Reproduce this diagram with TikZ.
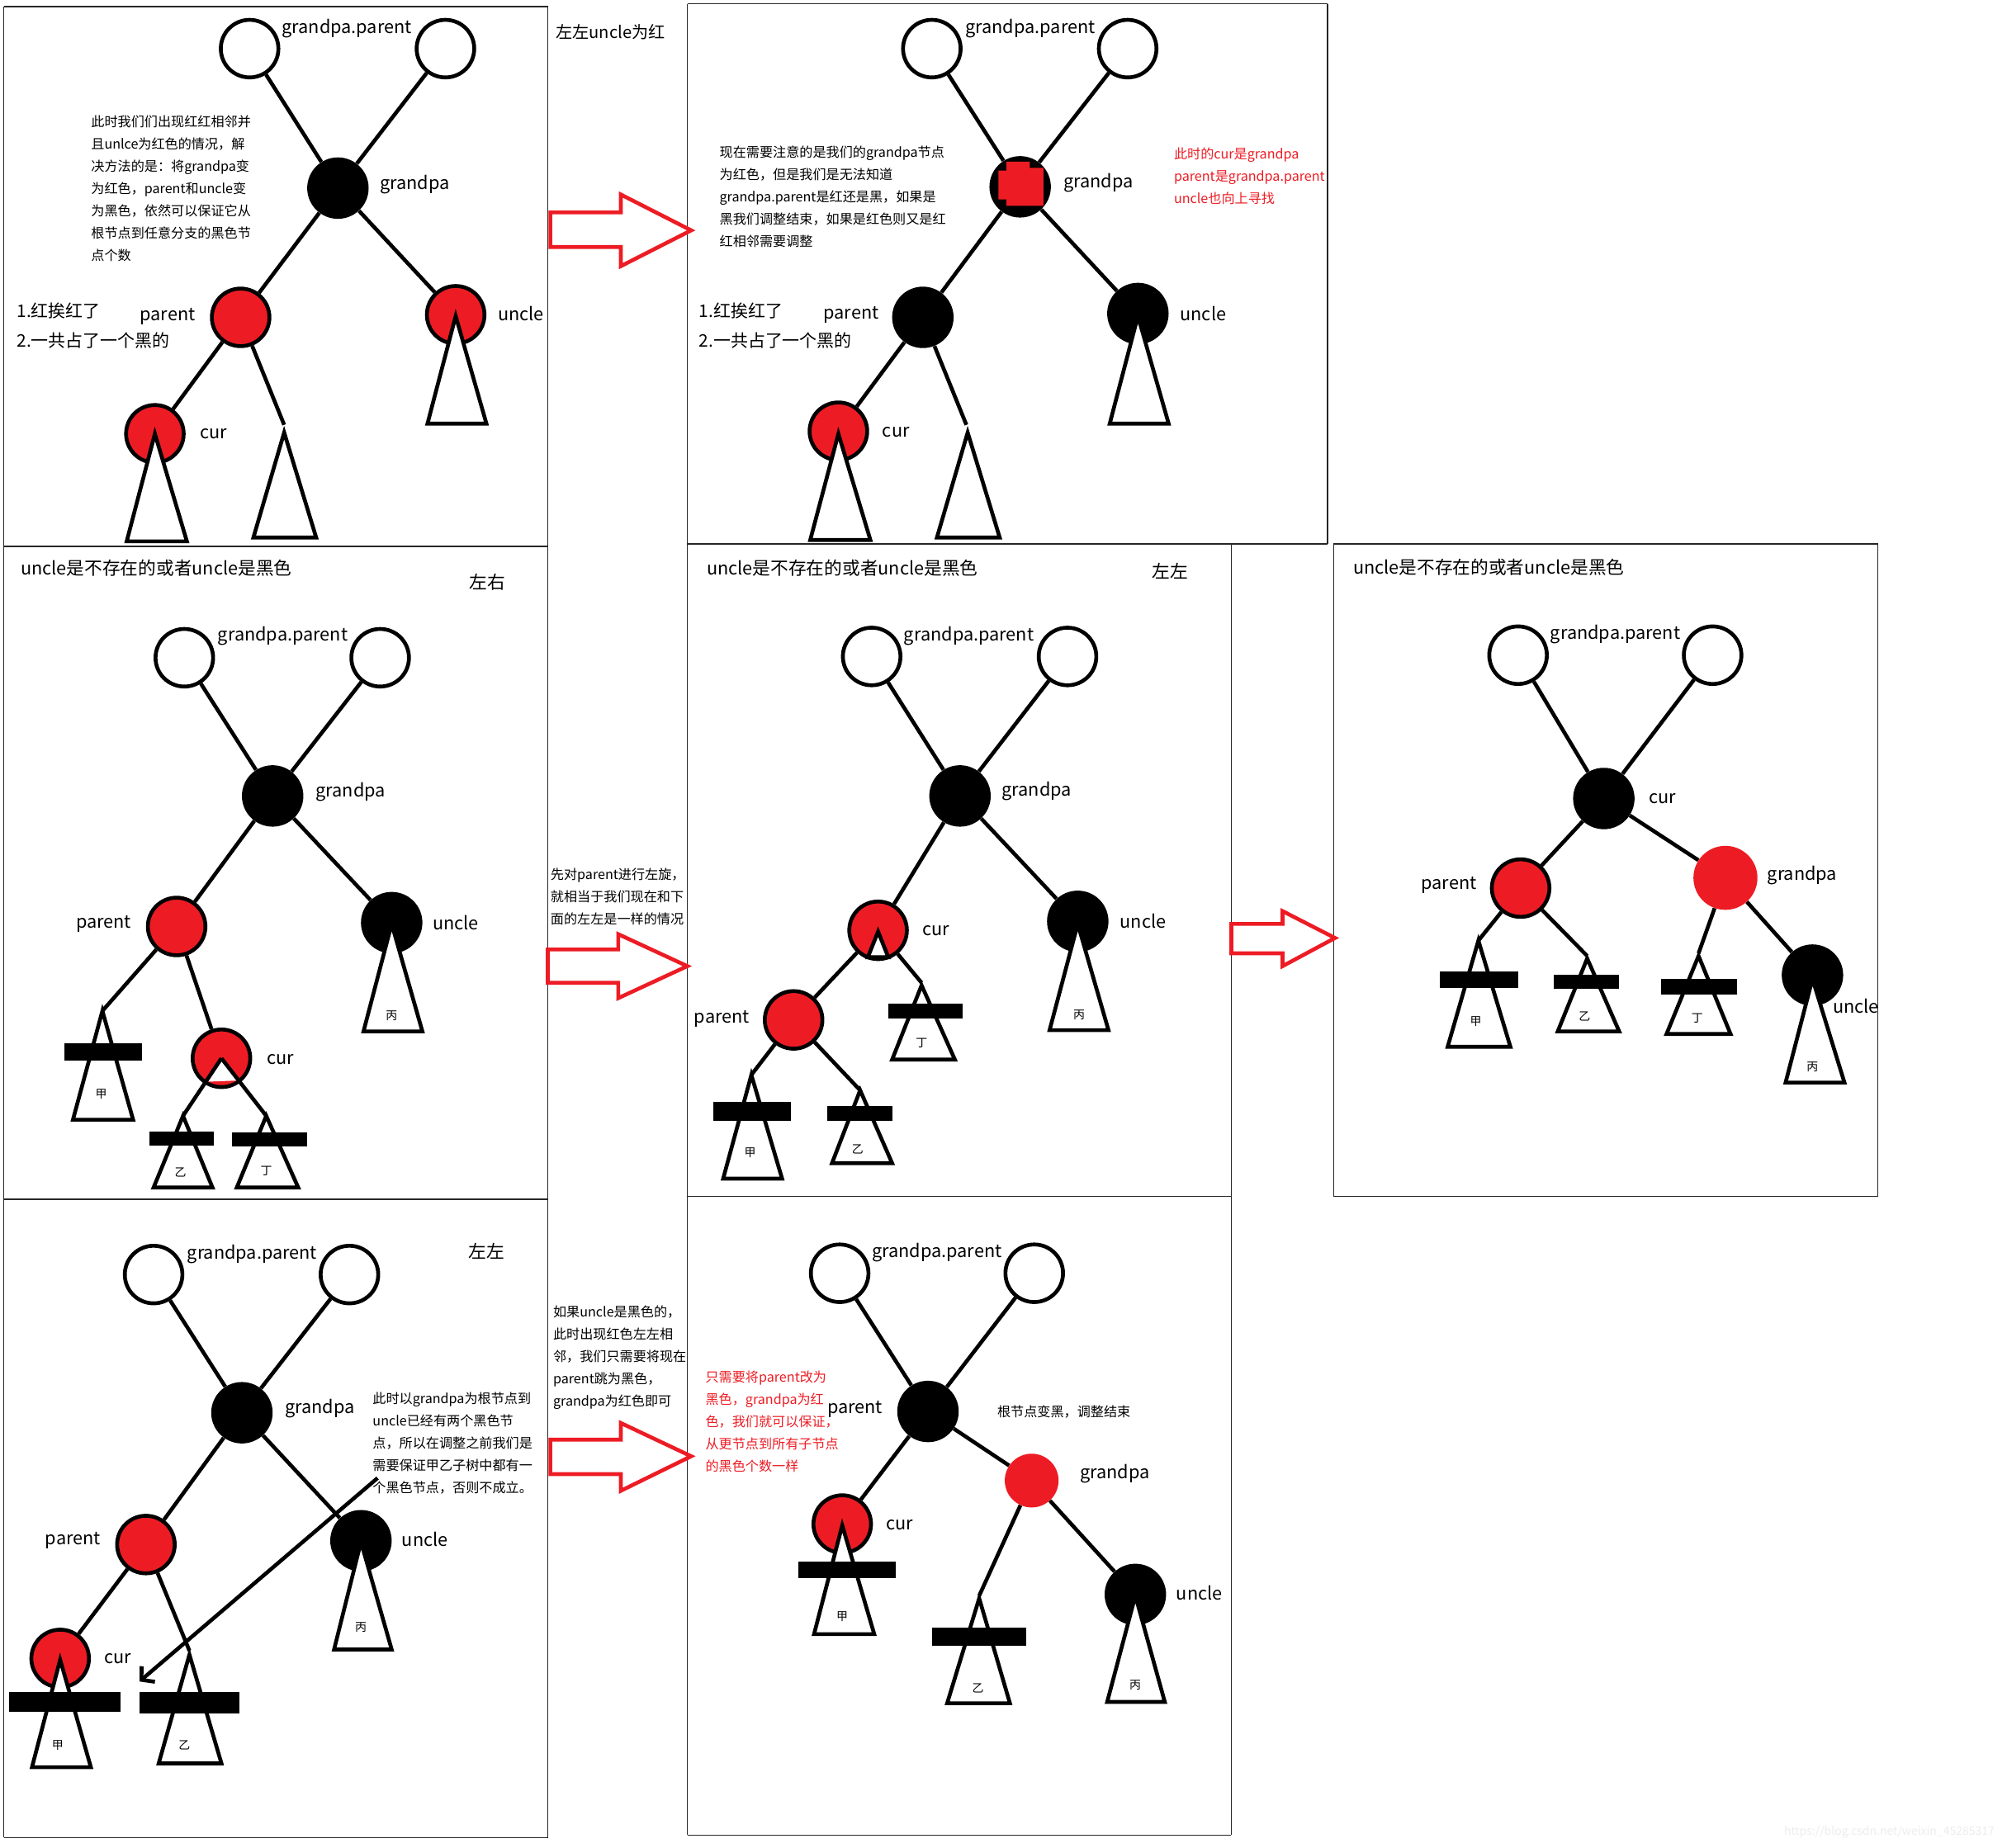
\documentclass[tikz,border=0pt]{standalone}
\usepackage{fontspec}
\setmainfont{Noto Sans CJK SC}
\usetikzlibrary{arrows.meta}
\definecolor{pr}{HTML}{ED1C24}
\begin{document}
\begin{tikzpicture}[x=1pt,y=-1pt,
  edge/.style={line width=3pt},
  wn/.style={circle,draw,line width=3pt,fill=white,minimum size=45pt,inner sep=0pt},
  bn/.style={circle,fill=black,minimum size=48pt,inner sep=0pt},
  rn/.style={circle,draw,line width=3pt,fill=pr,minimum size=45pt,inner sep=0pt},
  rx/.style={circle,fill=pr,minimum size=50pt,inner sep=0pt},
  tri/.style={draw,line width=3pt,fill=white,line join=miter},
  barr/.style={fill=black},
  lab/.style={font=\fontsize{14}{16}\selectfont,inner sep=0pt},
  cjl/.style={font=\fontsize{13.5}{16}\selectfont,inner sep=0pt,anchor=west},
  small/.style={font=\fontsize{9}{10}\selectfont,inner sep=0pt},
  para/.style={font=\fontsize{10.4}{17.4}\selectfont,inner sep=0pt,anchor=north west,align=left},
  frame/.style={line width=1pt,draw=black!85},
  harrow/.style={draw=pr,line width=3pt,fill=white,line join=miter}
]
\useasboundingbox (0,0) rectangle (1568,1444);
\fill[white] (0,0) rectangle (1568,1444);

% ---------- frames ----------
\draw[frame] (3,5) -- (428,5);
\draw[frame] (3,5) -- (3,1436);
\draw[frame] (428,5) -- (428,1436);
\draw[frame] (3,427) -- (428,427);
\draw[frame] (3,937) -- (428,937);
\draw[frame] (3,1436) -- (428,1436);
\draw[frame] (537,3) -- (1037,3);
\draw[frame] (537,3) -- (537,1434);
\draw[frame] (1037,3) -- (1037,425);
\draw[frame] (537,425) -- (1037,425);
\draw[frame] (962,425) -- (962,1434);
\draw[frame] (537,935) -- (962,935);
\draw[frame] (537,1434) -- (962,1434);
\draw[frame] (1042,425) rectangle (1467,935);

% ---------- hollow arrows ----------
\draw[harrow] (430,166) -- (485,166) -- (485,152) -- (540,180) -- (485,208) -- (485,193) -- (430,193) -- cycle;
\draw[harrow] (428,742) -- (483,742) -- (483,730) -- (537,755) -- (483,780) -- (483,768) -- (428,768) -- cycle;
\draw[harrow] (962,722) -- (1002,722) -- (1002,712) -- (1043,733) -- (1002,755) -- (1002,745) -- (962,745) -- cycle;
\draw[harrow] (430,1125) -- (485,1125) -- (485,1112) -- (540,1138) -- (485,1165) -- (485,1152) -- (430,1152) -- cycle;

% ================= Panel A =================
\node[wn] (aL) at (195,38) {};
\node[wn] (aR) at (348,38) {};
\node[bn] (aG) at (264,147) {};
\node[rn] (aP) at (188,248) {};
\node[rn] (aU) at (356,246) {};
\node[rn] (aC) at (121,339) {};
\coordinate (aT) at (222,332);
\draw[edge] (aL) -- (aG);
\draw[edge] (aR) -- (aG);
\draw[edge] (aG) -- (aP);
\draw[edge] (aG) -- (aU);
\draw[edge] (aP) -- (aC);
\draw[edge] (aP) -- (aT);
\draw[tri] (356,247) -- (334,331) -- (380,331) -- cycle;
\draw[tri] (121,339) -- (99,423) -- (146,423) -- cycle;
\draw[tri] (222,338) -- (198,420) -- (247,420) -- cycle;
\node[lab] (aLgp) at (271,22) {grandpa.parent};
\node[lab] (aLg) at (324,144) {grandpa};
\node[lab] (aLp) at (131,247) {parent};
\node[lab] (aLu) at (407,245) {uncle};
\node[lab] (aLc) at (167,339) {cur};
\node[cjl] (aT1) at (13,243) {1.红挨红了};
\node[cjl] (aT2) at (13,266) {2.一共占了一个黑的};
\node[para] (aPara) at (71,90) {此时我们们出现红红相邻并\\且unlce为红色的情况，解\\决方法的是：将grandpa变\\为红色，parent和uncle变\\为黑色，依然可以保证它从\\根节点到任意分支的黑色节\\点个数};
\node[cjl] (topnote) at (434,25) {\fontsize{13}{15}\selectfont 左左uncle为红};

% ================= Panel B =================
\node[wn] (bL) at (728,38) {};
\node[wn] (bR) at (881,38) {};
\node[bn] (bG) at (797,146) {};
\node[bn] (bP) at (721,248) {};
\node[bn] (bU) at (889,245) {};
\node[rn] (bC) at (655,337) {};
\coordinate (bT) at (755,332);
\draw[edge] (bL) -- (bG);
\draw[edge] (bR) -- (bG);
\draw[edge] (bG) -- (bP);
\draw[edge] (bG) -- (bU);
\draw[edge] (bP) -- (bC);
\draw[edge] (bP) -- (bT);
\fill[pr] (786.4,126.4) -- (804.5,126.4) -- (804.5,131.1) -- (815.2,131.1) -- (815.2,160.8) -- (786.4,160.8) -- (786.4,155.9) -- (780,155.9) -- (780,133.3) -- (786.4,133.3) -- cycle;
\draw[tri] (889,247) -- (867,331) -- (913,331) -- cycle;
\draw[tri] (655,339) -- (633,422) -- (680,422) -- cycle;
\draw[tri] (756,338) -- (732,420) -- (781,420) -- cycle;
\node[lab] (bLgp) at (805,22) {grandpa.parent};
\node[lab] (bLg) at (858,143) {grandpa};
\node[lab] (bLp) at (665,246) {parent};
\node[lab] (bLu) at (940,245) {uncle};
\node[lab] (bLc) at (700,338) {cur};
\node[cjl] (bT1) at (546,243) {1.红挨红了};
\node[cjl] (bT2) at (546,266) {2.一共占了一个黑的};
\node[para] (bPara) at (562,114) {现在需要注意的是我们的grandpa节点\\为红色，但是我们是无法知道\\grandpa.parent是红还是黑，如果是\\黑我们调整结束，如果是红色则又是红\\红相邻需要调整};
\node[para,text=pr] (bRed) at (917,115) {此时的cur是grandpa\\parent是grandpa.parent\\uncle也向上寻找};

% ================= Panel LM =================
\node[lab,anchor=west] (cTitle) at (16,444) {uncle是不存在的或者uncle是黑色};
\node[lab] (cLR) at (381,455) {左右};
\node[wn] (cL) at (144,514) {};
\node[wn] (cR) at (297,514) {};
\node[bn] (cG) at (213,622) {};
\node[rn] (cP) at (138,724) {};
\node[bn] (cU) at (306,721) {};
\node[rn] (cC) at (173,827) {};
\coordinate (cJa) at (80,790);
\coordinate (cYa) at (143,872);
\coordinate (cDa) at (208,872);
\draw[edge] (cL) -- (cG);
\draw[edge] (cR) -- (cG);
\draw[edge] (cG) -- (cP);
\draw[edge] (cG) -- (cU);
\draw[edge] (cP) -- (cJa);
\draw[edge] (cP) -- (cC);
\fill[white] (173,828) -- (161.2,845.3) -- (186.1,844.4) -- cycle;
\draw[edge] (cC.center) -- (cYa);
\draw[edge] (cC.center) -- (cDa);
\draw[tri] (80,790) -- (57,875) -- (104,875) -- cycle;
\fill[barr] (50,815) rectangle (111,829);
\draw[tri] (143,872) -- (120,928) -- (166,928) -- cycle;
\fill[barr] (117,884) rectangle (167,895);
\draw[tri] (208,872) -- (185,928) -- (233,928) -- cycle;
\fill[barr] (181,885) rectangle (240,896);
\draw[tri] (306,722) -- (284,806) -- (330,806) -- cycle;
\node[small] (cJ) at (79,855) {甲};
\node[small] (cY) at (141,916) {乙};
\node[small] (cD) at (208,915) {丁};
\node[small] (cB) at (306,794) {丙};
\node[lab] (cLgp) at (221,497) {grandpa.parent};
\node[lab] (cLg) at (274,619) {grandpa};
\node[lab] (cLp) at (81,722) {parent};
\node[lab] (cLu) at (356,721) {uncle};
\node[lab] (cLc) at (219,828) {cur};
\node[para] (cPara) at (430,678) {先对parent进行左旋，\\就相当于我们现在和下\\面的左左是一样的情况};

% ================= Panel MM =================
\node[lab,anchor=west] (dTitle) at (552,444) {uncle是不存在的或者uncle是黑色};
\node[lab] (dLL) at (914,446) {左左};
\node[wn] (dL) at (681,513) {};
\node[wn] (dR) at (834,513) {};
\node[bn] (dG) at (750,622) {};
\node[bn] (dU) at (842,720) {};
\node[rn] (dC) at (686,727) {};
\node[rn] (dP) at (620,797) {};
\coordinate (dDa) at (720,768);
\coordinate (dJa) at (587,840);
\coordinate (dYa) at (672,852);
\draw[edge] (dL) -- (dG);
\draw[edge] (dR) -- (dG);
\draw[edge] (dG) -- (dC);
\draw[edge] (dG) -- (dU);
\draw[edge] (dC) -- (dP);
\draw[edge] (dC) -- (dDa);
\draw[edge] (dP) -- (dJa);
\draw[edge] (dP) -- (dYa);
\draw[tri] (686,728) -- (678,748) -- (694,748) -- cycle;
\draw[tri] (720,770) -- (697,828) -- (746,828) -- cycle;
\fill[barr] (694,784) rectangle (752,796);
\draw[tri] (587,840) -- (565,921) -- (611,921) -- cycle;
\fill[barr] (557,861) rectangle (618,876);
\draw[tri] (672,852) -- (650,909) -- (697,909) -- cycle;
\fill[barr] (646,864) rectangle (697,876);
\draw[tri] (842,722) -- (820,805) -- (866,805) -- cycle;
\node[small] (dD) at (720,815) {丁};
\node[small] (dJ) at (586,901) {甲};
\node[small] (dY) at (670,898) {乙};
\node[small] (dB) at (843,793) {丙};
\node[lab] (dLgp) at (757,497) {grandpa.parent};
\node[lab] (dLg) at (810,618) {grandpa};
\node[lab] (dLu) at (893,720) {uncle};
\node[lab] (dLc) at (731,727) {cur};
\node[lab] (dLp) at (564,796) {parent};

% ================= Panel R =================
\node[lab,anchor=west] (eTitle) at (1057,443) {uncle是不存在的或者uncle是黑色};
\node[wn] (eL) at (1186,512) {};
\node[wn] (eR) at (1338,512) {};
\node[bn] (eC) at (1253,624) {};
\node[rn] (eP) at (1188,694) {};
\node[rx] (eG) at (1348,686) {};
\node[bn] (eU) at (1416,762) {};
\coordinate (eJa) at (1155,735);
\coordinate (eYa) at (1240,747);
\coordinate (eDa) at (1327,745);
\draw[edge] (eL) -- (eC);
\draw[edge] (eR) -- (eC);
\draw[edge] (eC) -- (eP);
\draw[edge] (eC) -- (eG);
\draw[edge] (eP) -- (eJa);
\draw[edge] (eP) -- (eYa);
\draw[edge] (eG) -- (eDa);
\draw[edge] (eG) -- (eU);
\draw[tri] (1155,735) -- (1131,818) -- (1180,818) -- cycle;
\fill[barr] (1125,759) rectangle (1186,772);
\draw[tri] (1240,749) -- (1217,806) -- (1265,806) -- cycle;
\fill[barr] (1214,762) rectangle (1265,773);
\draw[tri] (1327,747) -- (1302,808) -- (1352,808) -- cycle;
\fill[barr] (1298,765) rectangle (1357,777);
\draw[tri] (1416,765) -- (1395,846) -- (1441,846) -- cycle;
\node[small] (eJ) at (1153,798) {甲};
\node[small] (eY) at (1238,794) {乙};
\node[small] (eD) at (1326,796) {丁};
\node[small] (eB) at (1416,834) {丙};
\node[lab] (eLgp) at (1262,496) {grandpa.parent};
\node[lab] (eLc) at (1299,624) {cur};
\node[lab] (eLp) at (1132,692) {parent};
\node[lab] (eLg) at (1408,684) {grandpa};
\node[lab] (eLu) at (1450,786) {uncle};

% ================= Panel LB =================
\node[lab] (fLL) at (380,978) {左左};
\node[wn] (fL) at (120,996) {};
\node[wn] (fR) at (273,996) {};
\node[bn] (fG) at (189,1104) {};
\node[rn] (fP) at (114,1207) {};
\node[bn] (fU) at (282,1204) {};
\node[rn] (fC) at (47,1296) {};
\coordinate (fYa) at (148,1290);
\draw[edge] (fL) -- (fG);
\draw[edge] (fR) -- (fG);
\draw[edge] (fG) -- (fP);
\draw[edge] (fG) -- (fU);
\draw[edge] (fP) -- (fC);
\draw[edge] (fP) -- (fYa);
\draw[tri] (47,1297) -- (25,1381) -- (71,1381) -- cycle;
\fill[barr] (7,1322) rectangle (94,1338);
\draw[tri] (148,1293) -- (124,1378) -- (173,1378) -- cycle;
\fill[barr] (109,1322) rectangle (187,1339);
\draw[tri] (282,1205) -- (261,1289) -- (306,1289) -- cycle;
\node[small] (fJ) at (45,1364) {甲};
\node[small] (fY) at (144,1364) {乙};
\node[small] (fB) at (282,1272) {丙};
\coordinate (fAs) at (295,1155);
\coordinate (fAe) at (109,1314);
\draw[edge,-{Straight Barb[length=7pt,width=16pt]}] (fAs) -- (fAe);
\node[lab] (fLgp) at (197,980) {grandpa.parent};
\node[lab] (fLg) at (250,1101) {grandpa};
\node[lab] (fLp) at (57,1204) {parent};
\node[lab] (fLu) at (332,1203) {uncle};
\node[lab] (fLc) at (92,1296) {cur};
\node[para] (fPara) at (291,1088) {此时以grandpa为根节点到\\uncle已经有两个黑色节\\点，所以在调整之前我们是\\需要保证甲乙子树中都有一\\个黑色节点，否则不成立。};
\node[para] (fNote) at (432,1020) {如果uncle是黑色的，\\此时出现红色左左相\\邻，我们只需要将现在\\parent跳为黑色，\\grandpa为红色即可};

% ================= Panel MB =================
\node[wn] (gL) at (656,995) {};
\node[wn] (gR) at (808,995) {};
\node[bn] (gP) at (725,1103) {};
\node[rx,minimum size=42pt] (gG) at (806,1157) {};
\node[bn] (gU) at (887,1246) {};
\node[rn] (gC) at (658,1191) {};
\coordinate (gYa) at (765,1247);
\draw[edge] (gL) -- (gP);
\draw[edge] (gR) -- (gP);
\draw[edge] (gP) -- (gC);
\draw[edge] (gP) -- (gG);
\draw[edge] (gG) -- (gU);
\draw[edge] (gG) -- (gYa);
\draw[tri] (658,1192) -- (636,1277) -- (683,1277) -- cycle;
\fill[barr] (624,1220) rectangle (700,1233);
\draw[tri] (765,1249) -- (740,1331) -- (789,1331) -- cycle;
\fill[barr] (728,1272) rectangle (802,1286);
\draw[tri] (887,1247) -- (865,1330) -- (910,1330) -- cycle;
\node[small] (gJ) at (658,1263) {甲};
\node[small] (gY) at (764,1319) {乙};
\node[small] (gB) at (887,1317) {丙};
\node[lab] (gLgp) at (732,979) {grandpa.parent};
\node[lab] (gLp) at (668,1101) {parent};
\node[lab] (gLg) at (871,1152) {grandpa};
\node[lab] (gLu) at (937,1245) {uncle};
\node[lab] (gLc) at (703,1192) {cur};
\node[para,anchor=west] (gRoot) at (779,1103) {根节点变黑，调整结束};
\node[para,text=pr] (gRed) at (551,1071) {只需要将parent改为\\黑色，grandpa为红\\色，我们就可以保证，\\从更节点到所有子节点\\的黑色个数一样};

% watermark
\node[font=\fontsize{9}{10}\selectfont,text=black!7,inner sep=0pt] (wm) at (1476,1432) {https://blog.csdn.net/weixin\_45285317};
\end{tikzpicture}
\end{document}
